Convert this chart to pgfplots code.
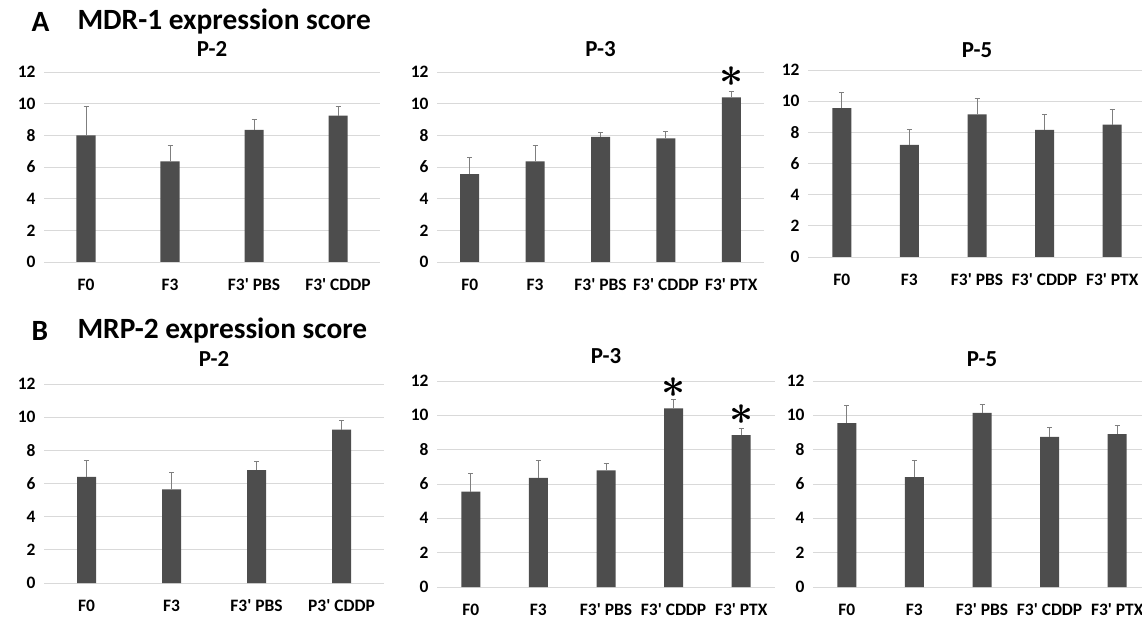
\documentclass[border=0pt]{standalone}
\usepackage{fontspec}
\setmainfont{Carlito}
\usepackage{pgfplots}
\pgfplotsset{compat=1.18}
\definecolor{barc}{HTML}{4D4D4D}
\definecolor{gridc}{HTML}{D9D9D9}
\definecolor{errc}{HTML}{7F7F7F}
\newcommand{\q}{\textquotesingle}
\newcommand{\bigast}{\scalebox{4.2}{\boldmath$\ast$}}
\pgfplotsset{
  panel/.style={
    scale only axis, anchor=south west, ybar, bar width=19bp,
    ymin=0, ymax=12, ytick={0,2,...,12},
    axis line style={draw=none}, tick style={draw=none},
    ymajorgrids, major grid style={gridc, line width=0.9bp},
    xtick=data, xmin=-0.5,
    /pgf/number format/assume math mode=true,
    ticklabel style={font=\fontsize{17.5}{17.5}\selectfont\bfseries},
    yticklabel style={xshift=-5bp},
    xticklabel style={yshift=-9bp},
    title style={font=\fontsize{23}{23}\selectfont\bfseries, anchor=center, at={(0.5,1)}},
    clip=false,
  },
  bars/.style={fill=barc, draw=none,
    error bars/.cd, y dir=plus, y explicit,
    error bar style={errc, line width=0.9bp},
    error mark options={errc, rotate=90, mark size=2.5bp, line width=0.9bp}},
}
\begin{document}
\begin{tikzpicture}
\useasboundingbox (0,0) rectangle (1142bp,618bp);
\node[anchor=west, font=\fontsize{29.5}{29.5}\selectfont\bfseries] at (28bp,596bp) {A};
\node[anchor=west, font=\fontsize{29.5}{29.5}\selectfont\bfseries] at (74bp,596bp) {MDR-1 expression score};
\node[anchor=west, font=\fontsize{29.5}{29.5}\selectfont\bfseries] at (28bp,287bp) {B};
\node[anchor=west, font=\fontsize{29.5}{29.5}\selectfont\bfseries] at (74bp,287bp) {MRP-2 expression score};

% A P-2
\begin{axis}[panel, at={(44bp,356bp)}, width=336bp, height=190bp, xmax=3.5,
  xticklabels={F0,F3,F3\q{} PBS,F3\q{} CDDP}, title={P-2}, title style={yshift=17bp}]
\addplot[bars] coordinates {(0,8.0) +- (0,1.8) (1,6.35) +- (0,1.0) (2,8.35) +- (0,0.65) (3,9.25) +- (0,0.55)};
\end{axis}
% A P-3
\begin{axis}[panel, at={(437bp,356bp)}, width=327bp, height=190bp, xmax=4.5,
  xticklabels={F0,F3,F3\q{} PBS,F3\q{} CDDP,F3\q{} PTX}, title={P-3}, title style={yshift=17bp}]
\addplot[bars] coordinates {(0,5.55) +- (0,1.05) (1,6.35) +- (0,1.0) (2,7.9) +- (0,0.3) (3,7.8) +- (0,0.45) (4,10.4) +- (0,0.4)};
\coordinate (s1) at (axis cs:4,11.68);
\end{axis}
% A P-5
\begin{axis}[panel, at={(808bp,361bp)}, width=338bp, height=187bp, xmax=4.5,
  xticklabels={F0,F3,F3\q{} PBS,F3\q{} CDDP,F3\q{} PTX}, title={P-5}, title style={yshift=14bp}]
\addplot[bars] coordinates {(0,9.55) +- (0,1.0) (1,7.2) +- (0,1.0) (2,9.15) +- (0,1.0) (3,8.15) +- (0,1.0) (4,8.5) +- (0,1.0)};
\end{axis}
% B P-2
\begin{axis}[panel, at={(44bp,35bp)}, width=340bp, height=199bp, xmax=3.5,
  xticklabels={F0,F3,F3\q{} PBS,P3\q{} CDDP}, title={P-2}, title style={yshift=19bp}]
\addplot[bars] coordinates {(0,6.4) +- (0,1.0) (1,5.65) +- (0,1.0) (2,6.8) +- (0,0.55) (3,9.25) +- (0,0.55)};
\end{axis}
% B P-3
\begin{axis}[panel, at={(437bp,31bp)}, width=338bp, height=206bp, xmax=4.5,
  xticklabels={F0,F3,F3\q{} PBS,F3\q{} CDDP,F3\q{} PTX}, title={P-3}, title style={yshift=19bp}]
\addplot[bars] coordinates {(0,5.55) +- (0,1.05) (1,6.35) +- (0,1.0) (2,6.8) +- (0,0.4) (3,10.4) +- (0,0.5) (4,8.85) +- (0,0.4)};
\coordinate (s2) at (axis cs:3,11.59);
\coordinate (s3) at (axis cs:4,10.02);
\end{axis}
% B P-5
\begin{axis}[panel, at={(813bp,31bp)}, width=338bp, height=206bp, xmax=4.5,
  xticklabels={F0,F3,F3\q{} PBS,F3\q{} CDDP,F3\q{} PTX}, title={P-5}, title style={yshift=16bp}]
\addplot[bars] coordinates {(0,9.55) +- (0,1.05) (1,6.4) +- (0,0.95) (2,10.15) +- (0,0.5) (3,8.75) +- (0,0.55) (4,8.9) +- (0,0.5)};
\end{axis}
\node[inner sep=0pt] at (s1) {\bigast};
\node[inner sep=0pt] at (s2) {\bigast};
\node[inner sep=0pt] at (s3) {\bigast};
\end{tikzpicture}
\end{document}
